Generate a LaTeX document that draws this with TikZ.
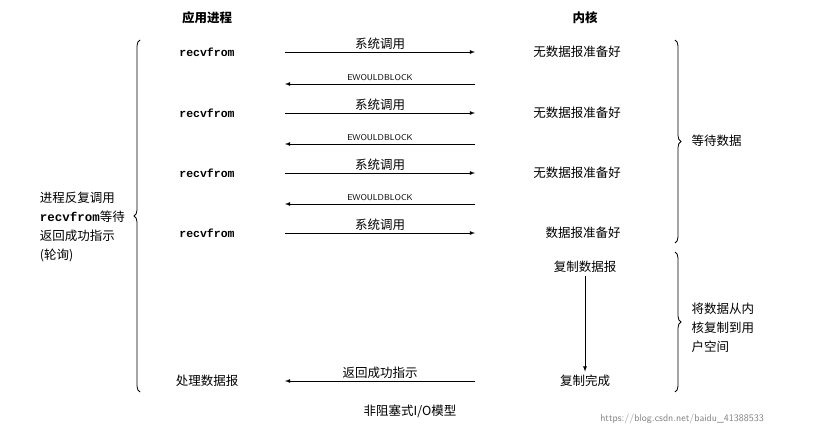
\documentclass[tikz,border=0pt]{standalone}
\usepackage{fontspec}
\setmainfont{Liberation Serif}
\setmonofont{Liberation Mono}
\newfontfamily\cjk{Noto Sans CJK SC}
\usetikzlibrary{decorations.pathreplacing}
\tikzset{
  txt/.style={font=\cjk\fontsize{12.5}{19}\selectfont},
  code/.style={font=\ttfamily\bfseries\fontsize{11.5}{14}\selectfont},
  small/.style={font=\sffamily\fontsize{8.5}{10}\selectfont},
  call/.style={->,>=latex,thick},
  mybrace/.style={decorate,decoration={brace,amplitude=6pt},thick},
}
\begin{document}
\begin{tikzpicture}[x=1pt,y=-1pt]
    \useasboundingbox (0,0) rectangle (831,433);

    \node[txt,font=\cjk\bfseries\fontsize{12.5}{15}\selectfont] (app) at (207,18) {应用进程};
    \node[txt,font=\cjk\bfseries\fontsize{12.5}{15}\selectfont] (kern) at (585,18) {内核};

    % polling rows
    \foreach \i/\y in {1/52,2/113,3/173} {
        \node[code] (r\i) at (207,\y) {recvfrom};
        \node[txt] (k\i) at (577,\y) {无数据报准备好};
        \coordinate (sa\i) at (285,\y);
        \coordinate (sb\i) at (475,\y);
        \draw[call] (sa\i) -- (sb\i) node[midway,above,txt,inner sep=2pt] {系统调用};
    }
    \foreach \i/\y in {1/84,2/144,3/204} {
        \coordinate (ea\i) at (475,\y);
        \coordinate (eb\i) at (285,\y);
        \draw[call] (ea\i) -- (eb\i) node[midway,above,small] {EWOULDBLOCK};
    }
    \node[code] (r4) at (207,233) {recvfrom};
    \node[txt] (k4) at (583,233) {数据报准备好};
    \coordinate (sa4) at (285,233);
    \coordinate (sb4) at (475,233);
    \draw[call] (sa4) -- (sb4) node[midway,above,txt,inner sep=2pt] {系统调用};

    % copy
    \node[txt] (copy) at (585,267) {复制数据报};
    \node[txt] (done) at (585,381) {复制完成};
    \draw[call] (copy) -- (done);
    \node[txt] (proc) at (207,381) {处理数据报};
    \coordinate (ra) at (475,381);
    \coordinate (rb) at (285,381);
    \draw[call] (ra) -- (rb) node[midway,above,txt,inner sep=2pt] {返回成功指示};

    % braces
    \draw[mybrace] (140,392) -- (140,40);
    \node[txt,align=left,anchor=east,inner sep=1pt] (poll) at (126,227) {进程反复调用\\{\ttfamily\bfseries recvfrom}等待\\返回成功指示\\(轮询)};
    \draw[mybrace] (675,40) -- (675,243);
    \node[txt,anchor=west] (wait) at (688,141) {等待数据};
    \draw[mybrace] (675,252) -- (675,392);
    \node[txt,align=left,anchor=west] (cpy) at (688,328) {将数据从内\\核复制到用\\户空间};

    \node[txt] (cap) at (410,411) {非阻塞式I/O模型};
    \node[font=\sffamily\fontsize{10}{12}\selectfont,text=gray] (wm) at (682,419) {https://blog.csdn.net/baidu\_41388533};
\end{tikzpicture}
\end{document}
